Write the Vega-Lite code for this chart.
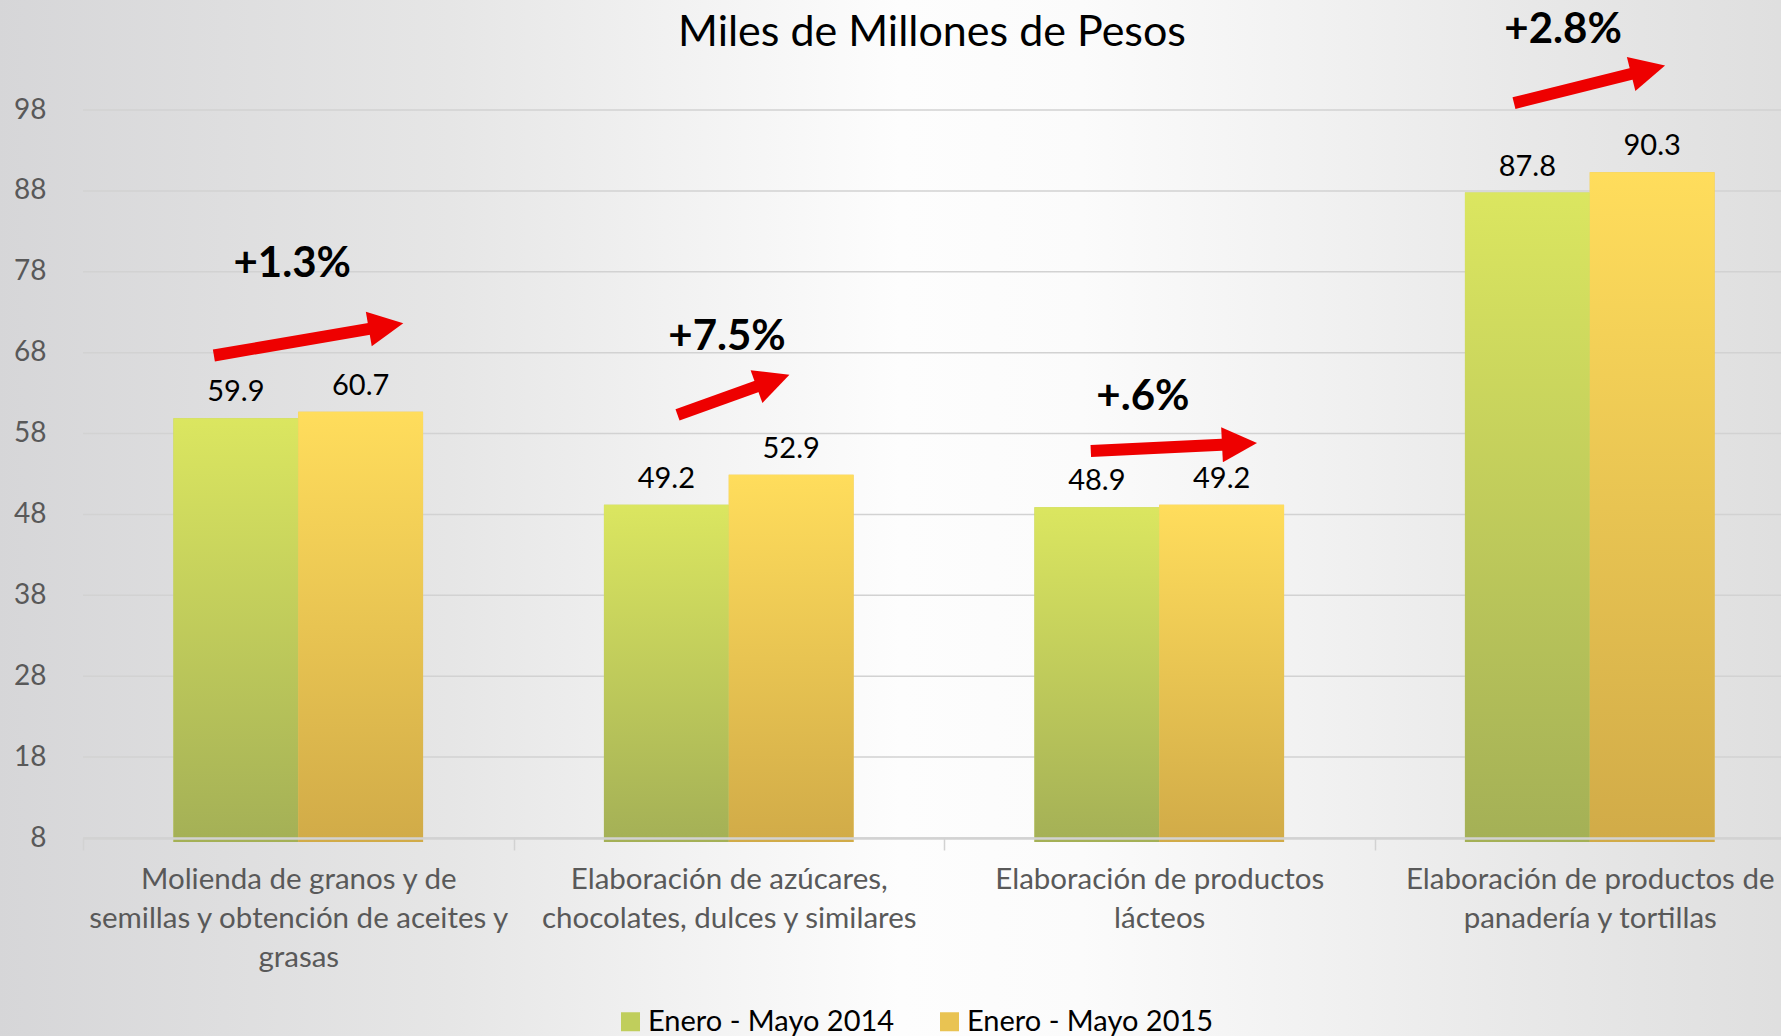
{
  "$schema": "https://vega.github.io/schema/vega-lite/v6.json",
  "width": 1698,
  "height": 728,
  "autosize": {"type": "none"},
  "padding": {"left": 83, "top": 110, "right": 0, "bottom": 198},
  "background": "#e4e4e4",
  "config": {
    "view": {"stroke": null},
    "font": "Lato",
    "axis": {"labelFont": "Lato"},
    "legend": {"labelFont": "Lato"},
    "text": {"font": "Lato"}
  },
  "title": {
    "text": "Miles de Millones de Pesos",
    "font": "Lato",
    "fontSize": 43,
    "fontWeight": "normal",
    "color": "#000000",
    "anchor": "middle",
    "frame": "group",
    "baseline": "bottom",
    "offset": -101,
    "zindex": 1
  },
  "datasets": {
    "ventas": [
      {"cat": "Molienda de granos y de|semillas y obtención de aceites y|grasas", "serie": "Enero - Mayo 2014", "valor": 59.9},
      {"cat": "Molienda de granos y de|semillas y obtención de aceites y|grasas", "serie": "Enero - Mayo 2015", "valor": 60.7},
      {"cat": "Elaboración de azúcares,|chocolates, dulces y similares", "serie": "Enero - Mayo 2014", "valor": 49.2},
      {"cat": "Elaboración de azúcares,|chocolates, dulces y similares", "serie": "Enero - Mayo 2015", "valor": 52.9},
      {"cat": "Elaboración de productos|lácteos", "serie": "Enero - Mayo 2014", "valor": 48.9},
      {"cat": "Elaboración de productos|lácteos", "serie": "Enero - Mayo 2015", "valor": 49.2},
      {"cat": "Elaboración de productos de|panadería y tortillas", "serie": "Enero - Mayo 2014", "valor": 87.8},
      {"cat": "Elaboración de productos de|panadería y tortillas", "serie": "Enero - Mayo 2015", "valor": 90.3}
    ],
    "flechas": [
      {"id": 1, "x0": 0.304, "y0": 67.65, "x1": 0.675, "y1": 71.03, "tx": 0.744, "ty": 71.65},
      {"id": 2, "x0": 1.381, "y0": 60.32, "x1": 1.575, "y1": 64.01, "tx": 1.641, "ty": 65.26},
      {"id": 3, "x0": 2.341, "y0": 55.83, "x1": 2.657, "y1": 56.64, "tx": 2.727, "ty": 56.82},
      {"id": 4, "x0": 3.324, "y0": 98.85, "x1": 3.607, "y1": 102.6, "tx": 3.675, "ty": 103.5}
    ],
    "variaciones": [
      {"txt": "+1.3%", "x": 0.486, "y": 78.99},
      {"txt": "+7.5%", "x": 1.496, "y": 69.96},
      {"txt": "+.6%", "x": 2.462, "y": 62.48},
      {"txt": "+2.8%", "x": 3.438, "y": 107.9}
    ],
    "rejilla": [
      {"v": 8}, {"v": 18}, {"v": 28}, {"v": 38}, {"v": 48},
      {"v": 58}, {"v": 68}, {"v": 78}, {"v": 88}, {"v": 98}
    ]
  },
  "layer": [
    {
      "layer": [
        {
          "data": {"values": [{}]},
          "mark": {
            "type": "rect",
            "fill": {
              "gradient": "linear",
              "x1": 0, "y1": 0, "x2": 1, "y2": 0,
              "stops": [
                {"offset": 0, "color": "#d6d6d8"},
                {"offset": 0.25, "color": "#e6e6e6"},
                {"offset": 0.5, "color": "#fdfdfd"},
                {"offset": 0.6, "color": "#fbfbfb"},
                {"offset": 0.85, "color": "#e8e8e8"},
                {"offset": 1, "color": "#dedede"}
              ]
            }
          },
          "encoding": {
            "x": {"datum": -0.2, "type": "quantitative", "scale": {"domain": [0, 4], "range": [0, 1722], "nice": false, "zero": false}, "axis": null},
            "x2": {"datum": 4.0},
            "y": {"datum": 112, "type": "quantitative", "scale": {"domain": [8, 98], "nice": false, "zero": false}, "axis": null},
            "y2": {"datum": -17}
          }
        },
        {
          "data": {"name": "rejilla"},
          "mark": {"type": "rule", "color": "#d2d2d2", "strokeWidth": 1.5},
          "encoding": {
            "y": {"field": "v", "type": "quantitative", "scale": {"domain": [8, 98], "nice": false, "zero": false}, "axis": null}
          }
        }
      ]
    },
    {
      "data": {"name": "ventas"},
      "encoding": {
        "x": {
          "field": "cat", "type": "nominal", "sort": null,
          "scale": {"range": [0, 1722], "paddingInner": 0, "paddingOuter": 0},
          "axis": {
            "title": null,
            "labelExpr": "split(datum.label, '|')",
            "labelAngle": 0,
            "labelFontSize": 29.5,
            "labelColor": "#595959",
            "labelLineHeight": 39,
            "labelPadding": 15,
            "labelLimit": 0,
            "tickBand": "extent",
            "tickSize": 12,
            "tickColor": "#d2d2d2",
            "tickWidth": 1.5,
            "domainColor": "#d2d2d2",
            "domainWidth": 2.5,
            "zindex": 1
          }
        },
        "xOffset": {"field": "serie", "type": "nominal", "sort": null, "scale": {"paddingInner": 0, "paddingOuter": 0.7245}},
        "y": {
          "field": "valor", "type": "quantitative",
          "scale": {"domain": [8, 98], "nice": false, "zero": false},
          "axis": {
            "title": null,
            "values": [8, 18, 28, 38, 48, 58, 68, 78, 88, 98],
            "grid": false,
            "ticks": false,
            "domain": false,
            "labelFontSize": 28,
            "labelColor": "#595959",
            "labelPadding": 37,
            "zindex": 1
          }
        }
      },
      "layer": [
        {
          "mark": {"type": "bar"},
          "encoding": {
            "y2": {"datum": 7.5},
            "color": {
              "field": "serie", "type": "nominal",
              "scale": {"domain": ["Enero - Mayo 2014", "Enero - Mayo 2015"], "range": ["#c0ce5c", "#e9c352"]},
              "legend": {
                "title": null,
                "orient": "none",
                "legendX": 533,
                "legendY": 897,
                "direction": "horizontal",
                "symbolType": "square",
                "symbolSize": 361,
                "symbolStrokeWidth": 0,
                "labelFontSize": 29,
                "labelColor": "#000000",
                "labelLimit": 0,
                "labelOffset": 3,
                "columnPadding": 40,
                "padding": 0,
                "zindex": 1
              }
            }
          }
        },
        {
          "transform": [{"filter": "datum.serie === 'Enero - Mayo 2014'"}],
          "mark": {
            "type": "bar",
            "fill": {
              "gradient": "linear",
              "x1": 0, "y1": 0, "x2": 0, "y2": 1,
              "stops": [
                {"offset": 0, "color": "#dbe660"},
                {"offset": 1, "color": "#a4b056"}
              ]
            }
          },
          "encoding": {"y2": {"datum": 7.5}}
        },
        {
          "transform": [{"filter": "datum.serie === 'Enero - Mayo 2015'"}],
          "mark": {
            "type": "bar",
            "fill": {
              "gradient": "linear",
              "x1": 0, "y1": 0, "x2": 0, "y2": 1,
              "stops": [
                {"offset": 0, "color": "#ffdd5c"},
                {"offset": 1, "color": "#d1ab48"}
              ]
            }
          },
          "encoding": {"y2": {"datum": 7.5}}
        },
        {
          "mark": {"type": "text", "baseline": "bottom", "dy": -11, "fontSize": 29, "font": "Lato", "color": "#000000"},
          "encoding": {
            "text": {"field": "valor", "type": "quantitative", "format": ".1f"}
          }
        }
      ]
    },
    {
      "layer": [
        {
          "data": {"name": "flechas"},
          "mark": {"type": "rule", "color": "#ee0000", "strokeWidth": 12, "strokeCap": "butt"},
          "encoding": {
            "x": {"field": "x0", "type": "quantitative", "scale": {"domain": [0, 4], "range": [0, 1722], "nice": false, "zero": false}, "axis": null},
            "x2": {"field": "x1"},
            "y": {"field": "y0", "type": "quantitative", "scale": {"domain": [8, 98], "nice": false, "zero": false}, "axis": null},
            "y2": {"field": "y1"}
          }
        },
        {
          "data": {"name": "flechas"},
          "transform": [{"filter": "datum.id === 1"}],
          "mark": {"type": "point", "shape": "M0,0L-1,-0.5L-1,0.5Z", "size": 4900, "filled": true, "fill": "#ee0000", "opacity": 1, "strokeWidth": 0, "angle": 350.3},
          "encoding": {
            "x": {"field": "tx", "type": "quantitative", "axis": null},
            "y": {"field": "ty", "type": "quantitative", "axis": null}
          }
        },
        {
          "data": {"name": "flechas"},
          "transform": [{"filter": "datum.id === 2"}],
          "mark": {"type": "point", "shape": "M0,0L-1,-0.5L-1,0.5Z", "size": 4900, "filled": true, "fill": "#ee0000", "opacity": 1, "strokeWidth": 0, "angle": 340.3},
          "encoding": {
            "x": {"field": "tx", "type": "quantitative", "axis": null},
            "y": {"field": "ty", "type": "quantitative", "axis": null}
          }
        },
        {
          "data": {"name": "flechas"},
          "transform": [{"filter": "datum.id === 3"}],
          "mark": {"type": "point", "shape": "M0,0L-1,-0.5L-1,0.5Z", "size": 4900, "filled": true, "fill": "#ee0000", "opacity": 1, "strokeWidth": 0, "angle": 357.2},
          "encoding": {
            "x": {"field": "tx", "type": "quantitative", "axis": null},
            "y": {"field": "ty", "type": "quantitative", "axis": null}
          }
        },
        {
          "data": {"name": "flechas"},
          "transform": [{"filter": "datum.id === 4"}],
          "mark": {"type": "point", "shape": "M0,0L-1,-0.5L-1,0.5Z", "size": 4900, "filled": true, "fill": "#ee0000", "opacity": 1, "strokeWidth": 0, "angle": 346.0},
          "encoding": {
            "x": {"field": "tx", "type": "quantitative", "axis": null},
            "y": {"field": "ty", "type": "quantitative", "axis": null}
          }
        },
        {
          "data": {"name": "variaciones"},
          "mark": {"type": "text", "font": "Lato", "fontSize": 42, "fontWeight": "bold", "color": "#000000", "align": "center", "baseline": "middle"},
          "encoding": {
            "x": {"field": "x", "type": "quantitative", "axis": null},
            "y": {"field": "y", "type": "quantitative", "axis": null},
            "text": {"field": "txt", "type": "nominal"}
          }
        }
      ]
    }
  ],
  "resolve": {"scale": {"x": "independent"}, "axis": {"y": "independent"}}
}
